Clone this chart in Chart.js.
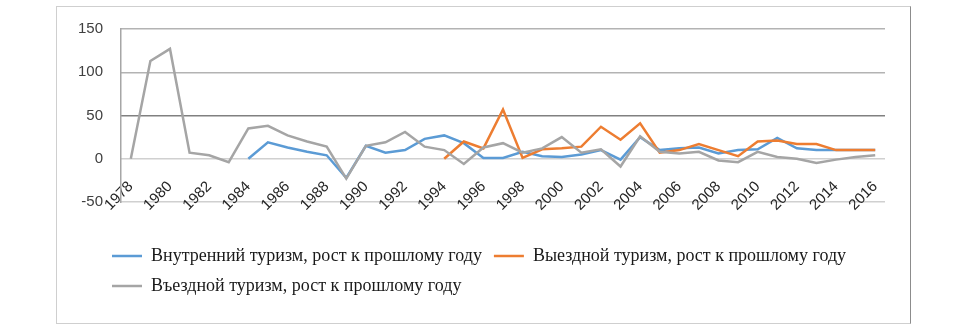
<!DOCTYPE html>
<html>
<head>
<meta charset="utf-8">
<script src="https://cdn.jsdelivr.net/npm/chart.js@4/dist/chart.umd.min.js"></script>
<style>
  html, body { margin: 0; padding: 0; background: #fff; }
  #wrap { position: relative; width: 978px; height: 329px; }
  #frame { position: absolute; left: 56px; top: 6px; width: 853px; height: 316px;
           border: 1px solid #cfcfcf; border-right-color: #8c8c8c; }
  #chart { position: absolute; left: 0; top: 0; }
</style>
</head>
<body>
<div id="wrap">
  <div id="frame"></div>
  <canvas id="chart" width="978" height="329"></canvas>
</div>
<script>
const years = ["1978","1979","1980","1981","1982","1983","1984","1985","1986","1987",
  "1988","1989","1990","1991","1992","1993","1994","1995","1996","1997",
  "1998","1999","2000","2001","2002","2003","2004","2005","2006","2007",
  "2008","2009","2010","2011","2012","2013","2014","2015","2016"];

// Внутренний туризм (с 1984)
const domestic = [null,null,null,null,null,null,
  0,19,13,8,4,-22,15,7,10,23,27,18,1,1,8,3,2,5,10,-1,25,10,12,13,6,10,11,24,12,10,10,10,10];

// Выездной туризм (с 1994)
const outbound = [null,null,null,null,null,null,null,null,null,null,null,null,null,null,null,null,
  0,20,12,57,1,11,12,14,37,22,41,7,10,17,10,3,20,21,17,17,10,10,10];

// Въездной туризм (с 1978)
const inbound = [0,113,127,7,4,-4,35,38,27,20,14,-23,15,19,31,14,10,-6,13,18,7,12,25,7,11,-9,26,8,6,8,-2,-4,8,2,0,-5,-1,2,4];

const yTicks = [-50, 0, 50, 100, 150];

const seriesNames = [
  "Внутренний туризм, рост к прошлому году",
  "Выездной туризм, рост к прошлому году",
  "Въездной туризм, рост к прошлому году"
];

const gridColor = v => v === 50 ? "#808080" : (v === 0 || v === -50) ? "#d0d0d0" : "#b3b3b3";
const tickFont = { family: "'Liberation Sans', Arial, sans-serif", size: 15 };

function line(label, data, color, order) {
  return {
    label, data, order,
    borderColor: color, backgroundColor: color,
    borderWidth: 2.5, pointRadius: 0, pointStyle: "line",
    tension: 0
  };
}

new Chart(document.getElementById("chart"), {
  type: "line",
  data: {
    labels: years,
    datasets: [
      line(seriesNames[0], domestic, "#5b9bd5", 3),
      line(seriesNames[1], outbound, "#ed7d31", 2),
      line(seriesNames[2], inbound, "#a5a5a5", 1)
    ]
  },
  options: {
    responsive: false,
    devicePixelRatio: 1,
    animation: false,
    layout: { padding: { left: 100, right: 93, top: 29, bottom: 24 } },
    plugins: {
      tooltip: { enabled: false },
      legend: {
        position: "bottom",
        align: "start",
        labels: {
          usePointStyle: true,
          pointStyleWidth: 30,
          padding: 12,
          color: "#1a1a1a",
          font: { family: "'Liberation Serif', 'DejaVu Serif', serif", size: 18 },
          sort: (a, b) => a.datasetIndex - b.datasetIndex
        }
      }
    },
    scales: {
      // category axis sits on the zero line, labels below it
      x: {
        position: { y: 0 },
        offset: true,
        grid: { display: false, drawTicks: false },
        border: { display: false },
        ticks: {
          autoSkip: false,
          maxRotation: 45,
          minRotation: 45,
          padding: 19,
          color: "#262626",
          font: tickFont,
          callback: function (val, i) { return i % 2 === 0 ? this.getLabelForValue(val) : ""; }
        }
      },
      // value labels a little left of the plot edge
      y: {
        position: { x: -1.42 },
        min: -50,
        max: 150,
        afterBuildTicks: s => { s.ticks = yTicks.map(v => ({ value: v })); },
        grid: {
          drawTicks: false,
          lineWidth: 1.5,
          color: c => gridColor(c.tick.value)
        },
        border: { display: false },
        ticks: { color: "#404040", font: tickFont }
      },
      // empty boxes that reserve room around the plot; yPad draws the axis line
      xPad: {
        type: "category",
        position: "bottom",
        grid: { display: false, drawTicks: false },
        border: { display: false },
        ticks: { display: false },
        afterFit: s => { s.height = 33; }
      },
      yPad: {
        type: "linear",
        position: "left",
        grid: { display: false, drawTicks: false },
        border: { display: true, color: "#a6a6a6", width: 1.5 },
        ticks: { display: false },
        afterFit: s => { s.width = 21; }
      }
    }
  }
});
</script>
</body>
</html>
